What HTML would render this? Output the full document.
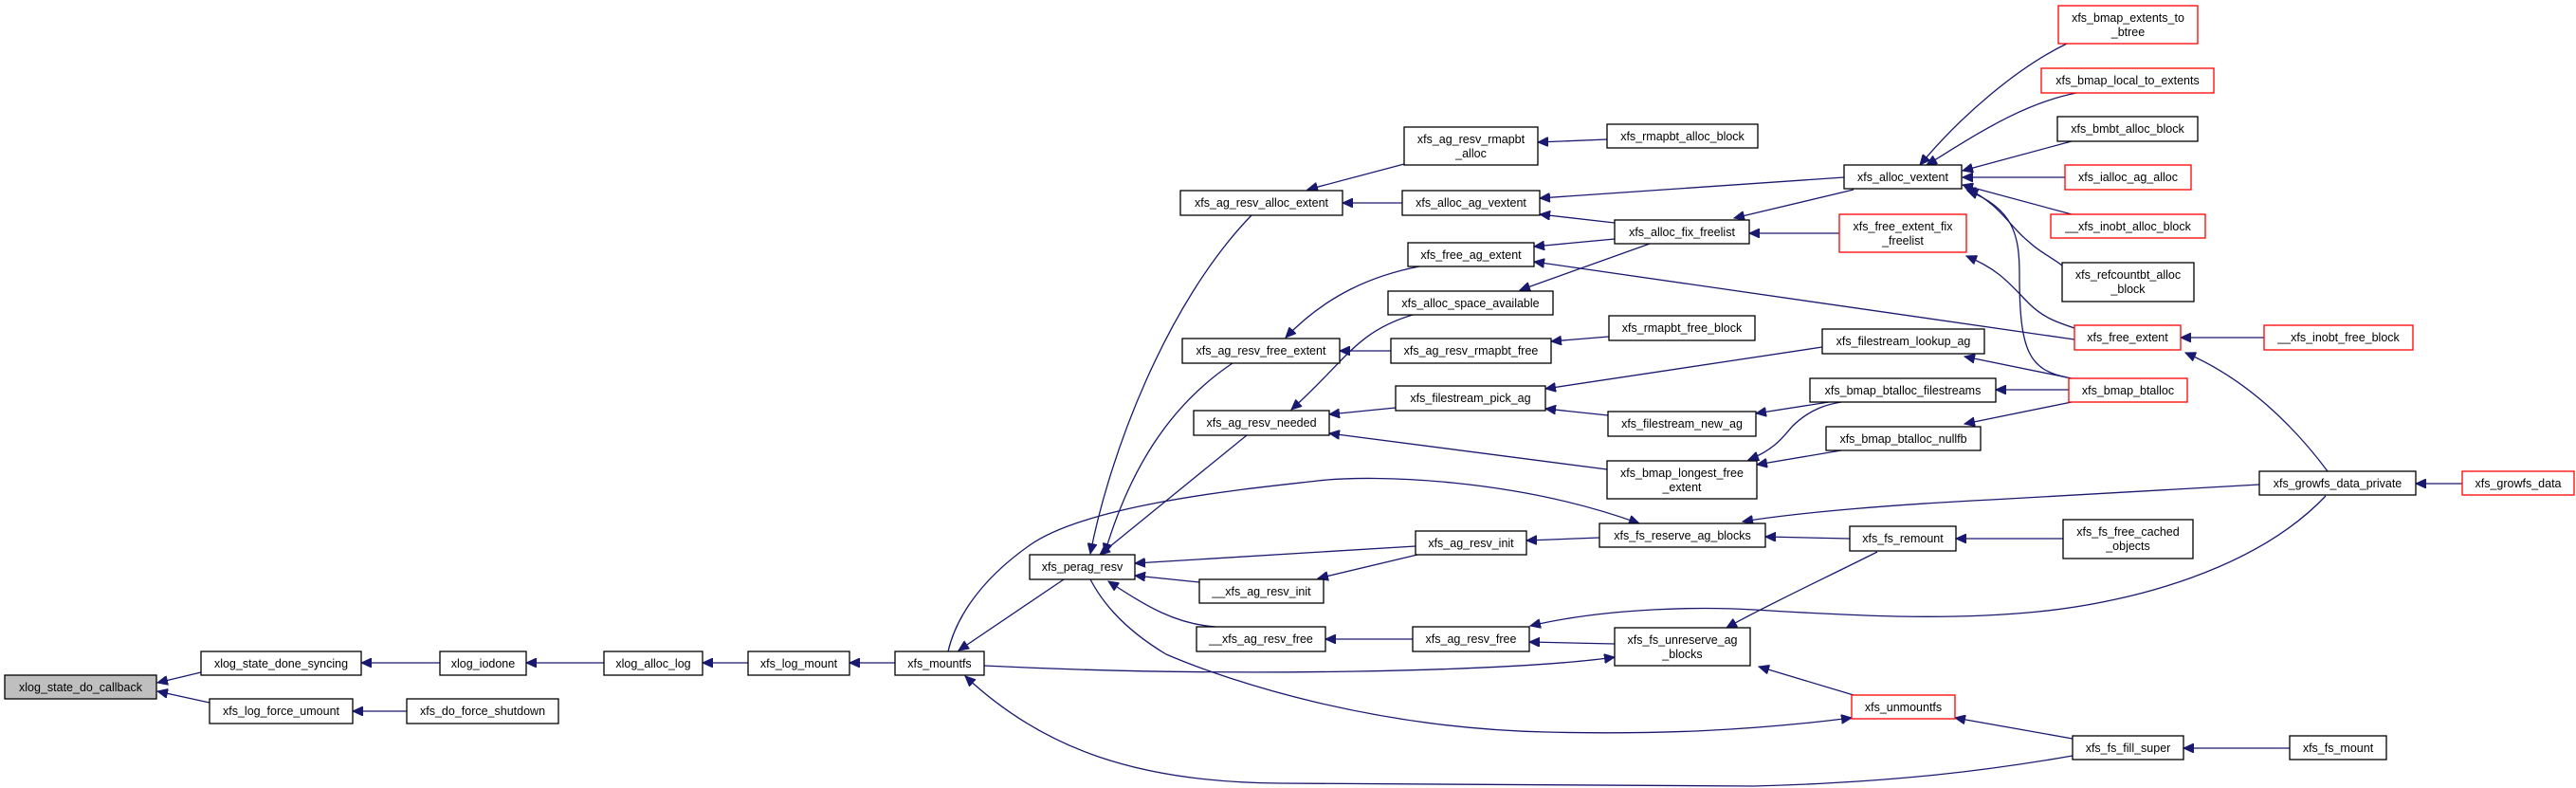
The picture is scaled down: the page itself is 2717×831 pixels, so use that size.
<!DOCTYPE html>
<html><head><meta charset="utf-8"><style>
html,body{margin:0;padding:0;background:#fff;}
svg{display:block;}
text{font-family:"Liberation Sans",Arial,sans-serif;font-size:12.5px;fill:#000;}
</style></head><body>
<svg width="2717" height="831" viewBox="0 0 2717 831" xmlns="http://www.w3.org/2000/svg">
<defs>
<marker id="a" markerUnits="userSpaceOnUse" markerWidth="12" markerHeight="10" refX="11" refY="5" orient="auto-start-reverse">
<path d="M0,0 L11,5 L0,10 Z" fill="#191970" stroke="#191970"/>
</marker>
</defs>
<g fill="none" stroke="#191970" stroke-width="1.3" marker-start="url(#a)">
<path d="M166,720 L212,709"/>
<path d="M166,729 L221,741"/>
<path d="M381,699 L464,699"/>
<path d="M555,699 L637,699"/>
<path d="M741,699 L789,699"/>
<path d="M896,699 L944,699"/>
<path d="M372,750 L429,750"/>
<path d="M1011,686 L1122,611"/>
<path d="M1729,552 C1600,505 1450,500 1390,507 S1150,530 1086,575 S1005,665 1000,687"/>
<path d="M1703,693 C1600,708 1300,715 1038,702"/>
<path d="M1018,713 C1100,790 1200,825 1350,826 L1850,829 C2000,825 2100,812 2186,797"/>
<path d="M1953,757 C1850,770 1750,775 1631,772 C1450,768 1300,720 1230,690 C1180,660 1160,630 1150,611"/>
<path d="M1855,703 L1955,733"/>
<path d="M2062,757 L2186,779"/>
<path d="M2303,789 L2415,789"/>
<path d="M1614,660 C1700,640 1800,640 1850,643 C1950,649 2050,655 2150,645 C2250,635 2380,600 2453,523"/>
<path d="M1821,662 C1860,640 1920,612 1980,582"/>
<path d="M1862,566 L1951,568"/>
<path d="M2063,568 L2176,568"/>
<path d="M1838,550 C1900,540 2000,532 2100,527 L2383,511"/>
<path d="M2548,510 L2597,510"/>
<path d="M2305,372 C2370,400 2420,450 2455,497"/>
<path d="M2300,356 L2388,356"/>
<path d="M1610,570 L1687,567"/>
<path d="M1197,594 L1493,576"/>
<path d="M1390,610 L1495,585"/>
<path d="M1197,607 L1265,614"/>
<path d="M1169,613 C1210,640 1240,658 1282,661"/>
<path d="M1398,674 L1490,674"/>
<path d="M1613,677 L1703,679"/>
<path d="M1160,585 L1315,459"/>
<path d="M1150,584 C1170,480 1230,320 1320,227"/>
<path d="M1165,584 C1190,500 1230,430 1300,383"/>
<path d="M1379,200 L1481,173"/>
<path d="M1622,150 L1695,147"/>
<path d="M1416,214 L1479,214"/>
<path d="M1624,209 L1945,187"/>
<path d="M1624,226 L1703,235"/>
<path d="M1829,230 L1955,200"/>
<path d="M1845,246 L1940,246"/>
<path d="M1618,260 L1703,252"/>
<path d="M1603,306 L1740,257"/>
<path d="M1618,276 L2188,358"/>
<path d="M1356,356 C1400,310 1450,290 1497,281"/>
<path d="M1413,370 L1467,370"/>
<path d="M1636,360 L1697,355"/>
<path d="M1362,432 C1420,380 1430,350 1490,332"/>
<path d="M1402,437 L1472,430"/>
<path d="M1402,457 L1695,495"/>
<path d="M1630,410 L1922,366"/>
<path d="M1630,431 L1696,438"/>
<path d="M1852,436 L1929,424"/>
<path d="M1844,485 C1870,475 1880,462 1890,450 C1910,430 1930,426 1942,424"/>
<path d="M1853,490 L1942,475"/>
<path d="M2072,376 L2185,399"/>
<path d="M2105,411 L2182,411"/>
<path d="M2072,447 L2185,424"/>
<path d="M2025,174 C2070,120 2130,70 2180,46"/>
<path d="M2032,174 C2080,145 2130,110 2190,98"/>
<path d="M2070,180 L2185,149"/>
<path d="M2070,187 L2178,187"/>
<path d="M2070,195 L2185,226"/>
<path d="M2073,198 C2110,215 2120,240 2140,255 C2150,265 2165,272 2175,280"/>
<path d="M2075,201 C2125,220 2130,250 2130,290 C2130,370 2140,390 2180,398"/>
<path d="M2074,270 C2110,285 2120,300 2140,320 C2155,335 2170,340 2188,346"/>
</g>
<g stroke-width="1.3" text-anchor="middle">
<rect x="5" y="712" width="160" height="25" fill="#bfbfbf" stroke="#000"/><text x="85" y="729">xlog_state_do_callback</text>
<rect x="212" y="687" width="169" height="25" fill="#fff" stroke="#000"/><text x="296.5" y="704">xlog_state_done_syncing</text>
<rect x="464" y="687" width="91" height="25" fill="#fff" stroke="#000"/><text x="509.5" y="704">xlog_iodone</text>
<rect x="637" y="687" width="104" height="25" fill="#fff" stroke="#000"/><text x="689" y="704">xlog_alloc_log</text>
<rect x="789" y="687" width="107" height="25" fill="#fff" stroke="#000"/><text x="842.5" y="704">xfs_log_mount</text>
<rect x="944" y="687" width="94" height="25" fill="#fff" stroke="#000"/><text x="991" y="704">xfs_mountfs</text>
<rect x="221" y="737" width="151" height="26" fill="#fff" stroke="#000"/><text x="296.5" y="754">xfs_log_force_umount</text>
<rect x="429" y="737" width="160" height="26" fill="#fff" stroke="#000"/><text x="509" y="754">xfs_do_force_shutdown</text>
<rect x="1086" y="585" width="111" height="26" fill="#fff" stroke="#000"/><text x="1141.5" y="602">xfs_perag_resv</text>
<rect x="1245" y="201" width="171" height="26" fill="#fff" stroke="#000"/><text x="1330.5" y="218">xfs_ag_resv_alloc_extent</text>
<rect x="1247" y="357" width="166" height="26" fill="#fff" stroke="#000"/><text x="1330" y="374">xfs_ag_resv_free_extent</text>
<rect x="1259" y="433" width="143" height="26" fill="#fff" stroke="#000"/><text x="1330.5" y="450">xfs_ag_resv_needed</text>
<rect x="1265" y="611" width="131" height="25" fill="#fff" stroke="#000"/><text x="1330.5" y="628">__xfs_ag_resv_init</text>
<rect x="1262" y="661" width="136" height="26" fill="#fff" stroke="#000"/><text x="1330" y="678">__xfs_ag_resv_free</text>
<rect x="1481" y="134" width="141" height="40" fill="#fff" stroke="#000"/><text x="1551.5" y="151">xfs_ag_resv_rmapbt</text><text x="1551.5" y="166">_alloc</text>
<rect x="1479" y="201" width="145" height="26" fill="#fff" stroke="#000"/><text x="1551.5" y="218">xfs_alloc_ag_vextent</text>
<rect x="1485" y="256" width="133" height="25" fill="#fff" stroke="#000"/><text x="1551.5" y="273">xfs_free_ag_extent</text>
<rect x="1464" y="307" width="174" height="25" fill="#fff" stroke="#000"/><text x="1551" y="324">xfs_alloc_space_available</text>
<rect x="1467" y="357" width="169" height="26" fill="#fff" stroke="#000"/><text x="1551.5" y="374">xfs_ag_resv_rmapbt_free</text>
<rect x="1472" y="407" width="158" height="26" fill="#fff" stroke="#000"/><text x="1551" y="424">xfs_filestream_pick_ag</text>
<rect x="1493" y="560" width="117" height="25" fill="#fff" stroke="#000"/><text x="1551.5" y="577">xfs_ag_resv_init</text>
<rect x="1490" y="661" width="123" height="26" fill="#fff" stroke="#000"/><text x="1551.5" y="678">xfs_ag_resv_free</text>
<rect x="1695" y="131" width="159" height="25" fill="#fff" stroke="#000"/><text x="1774.5" y="148">xfs_rmapbt_alloc_block</text>
<rect x="1703" y="232" width="142" height="25" fill="#fff" stroke="#000"/><text x="1774" y="249">xfs_alloc_fix_freelist</text>
<rect x="1697" y="333" width="154" height="26" fill="#fff" stroke="#000"/><text x="1774" y="350">xfs_rmapbt_free_block</text>
<rect x="1696" y="434" width="156" height="26" fill="#fff" stroke="#000"/><text x="1774" y="451">xfs_filestream_new_ag</text>
<rect x="1695" y="486" width="158" height="40" fill="#fff" stroke="#000"/><text x="1774" y="503">xfs_bmap_longest_free</text><text x="1774" y="518">_extent</text>
<rect x="1687" y="552" width="175" height="25" fill="#fff" stroke="#000"/><text x="1774.5" y="569">xfs_fs_reserve_ag_blocks</text>
<rect x="1703" y="662" width="143" height="40" fill="#fff" stroke="#000"/><text x="1774.5" y="679">xfs_fs_unreserve_ag</text><text x="1774.5" y="694">_blocks</text>
<rect x="1945" y="174" width="124" height="25" fill="#fff" stroke="#000"/><text x="2007" y="191">xfs_alloc_vextent</text>
<rect x="1940" y="226" width="134" height="40" fill="#fff" stroke="#f00"/><text x="2007" y="243">xfs_free_extent_fix</text><text x="2007" y="258">_freelist</text>
<rect x="1922" y="347" width="171" height="26" fill="#fff" stroke="#000"/><text x="2007.5" y="364">xfs_filestream_lookup_ag</text>
<rect x="1909" y="399" width="196" height="25" fill="#fff" stroke="#000"/><text x="2007" y="416">xfs_bmap_btalloc_filestreams</text>
<rect x="1926" y="450" width="163" height="25" fill="#fff" stroke="#000"/><text x="2007.5" y="467">xfs_bmap_btalloc_nullfb</text>
<rect x="1951" y="555" width="112" height="26" fill="#fff" stroke="#000"/><text x="2007" y="572">xfs_fs_remount</text>
<rect x="1953" y="733" width="109" height="25" fill="#fff" stroke="#f00"/><text x="2007.5" y="750">xfs_unmountfs</text>
<rect x="2171" y="6" width="147" height="40" fill="#fff" stroke="#f00"/><text x="2244.5" y="23">xfs_bmap_extents_to</text><text x="2244.5" y="38">_btree</text>
<rect x="2153" y="72" width="182" height="26" fill="#fff" stroke="#f00"/><text x="2244" y="89">xfs_bmap_local_to_extents</text>
<rect x="2170" y="123" width="148" height="26" fill="#fff" stroke="#000"/><text x="2244" y="140">xfs_bmbt_alloc_block</text>
<rect x="2178" y="174" width="133" height="26" fill="#fff" stroke="#f00"/><text x="2244.5" y="191">xfs_ialloc_ag_alloc</text>
<rect x="2163" y="226" width="163" height="25" fill="#fff" stroke="#f00"/><text x="2244.5" y="243">__xfs_inobt_alloc_block</text>
<rect x="2175" y="277" width="139" height="41" fill="#fff" stroke="#000"/><text x="2244.5" y="294">xfs_refcountbt_alloc</text><text x="2244.5" y="309">_block</text>
<rect x="2188" y="343" width="112" height="26" fill="#fff" stroke="#f00"/><text x="2244" y="360">xfs_free_extent</text>
<rect x="2182" y="399" width="125" height="25" fill="#fff" stroke="#f00"/><text x="2244.5" y="416">xfs_bmap_btalloc</text>
<rect x="2176" y="548" width="137" height="41" fill="#fff" stroke="#000"/><text x="2244.5" y="565">xfs_fs_free_cached</text><text x="2244.5" y="580">_objects</text>
<rect x="2186" y="776" width="117" height="25" fill="#fff" stroke="#000"/><text x="2244.5" y="793">xfs_fs_fill_super</text>
<rect x="2388" y="343" width="157" height="26" fill="#fff" stroke="#f00"/><text x="2466.5" y="360">__xfs_inobt_free_block</text>
<rect x="2383" y="497" width="165" height="25" fill="#fff" stroke="#000"/><text x="2465.5" y="514">xfs_growfs_data_private</text>
<rect x="2415" y="776" width="102" height="25" fill="#fff" stroke="#000"/><text x="2466" y="793">xfs_fs_mount</text>
<rect x="2597" y="497" width="118" height="25" fill="#fff" stroke="#f00"/><text x="2656" y="514">xfs_growfs_data</text>
</g>
</svg>
</body></html>
